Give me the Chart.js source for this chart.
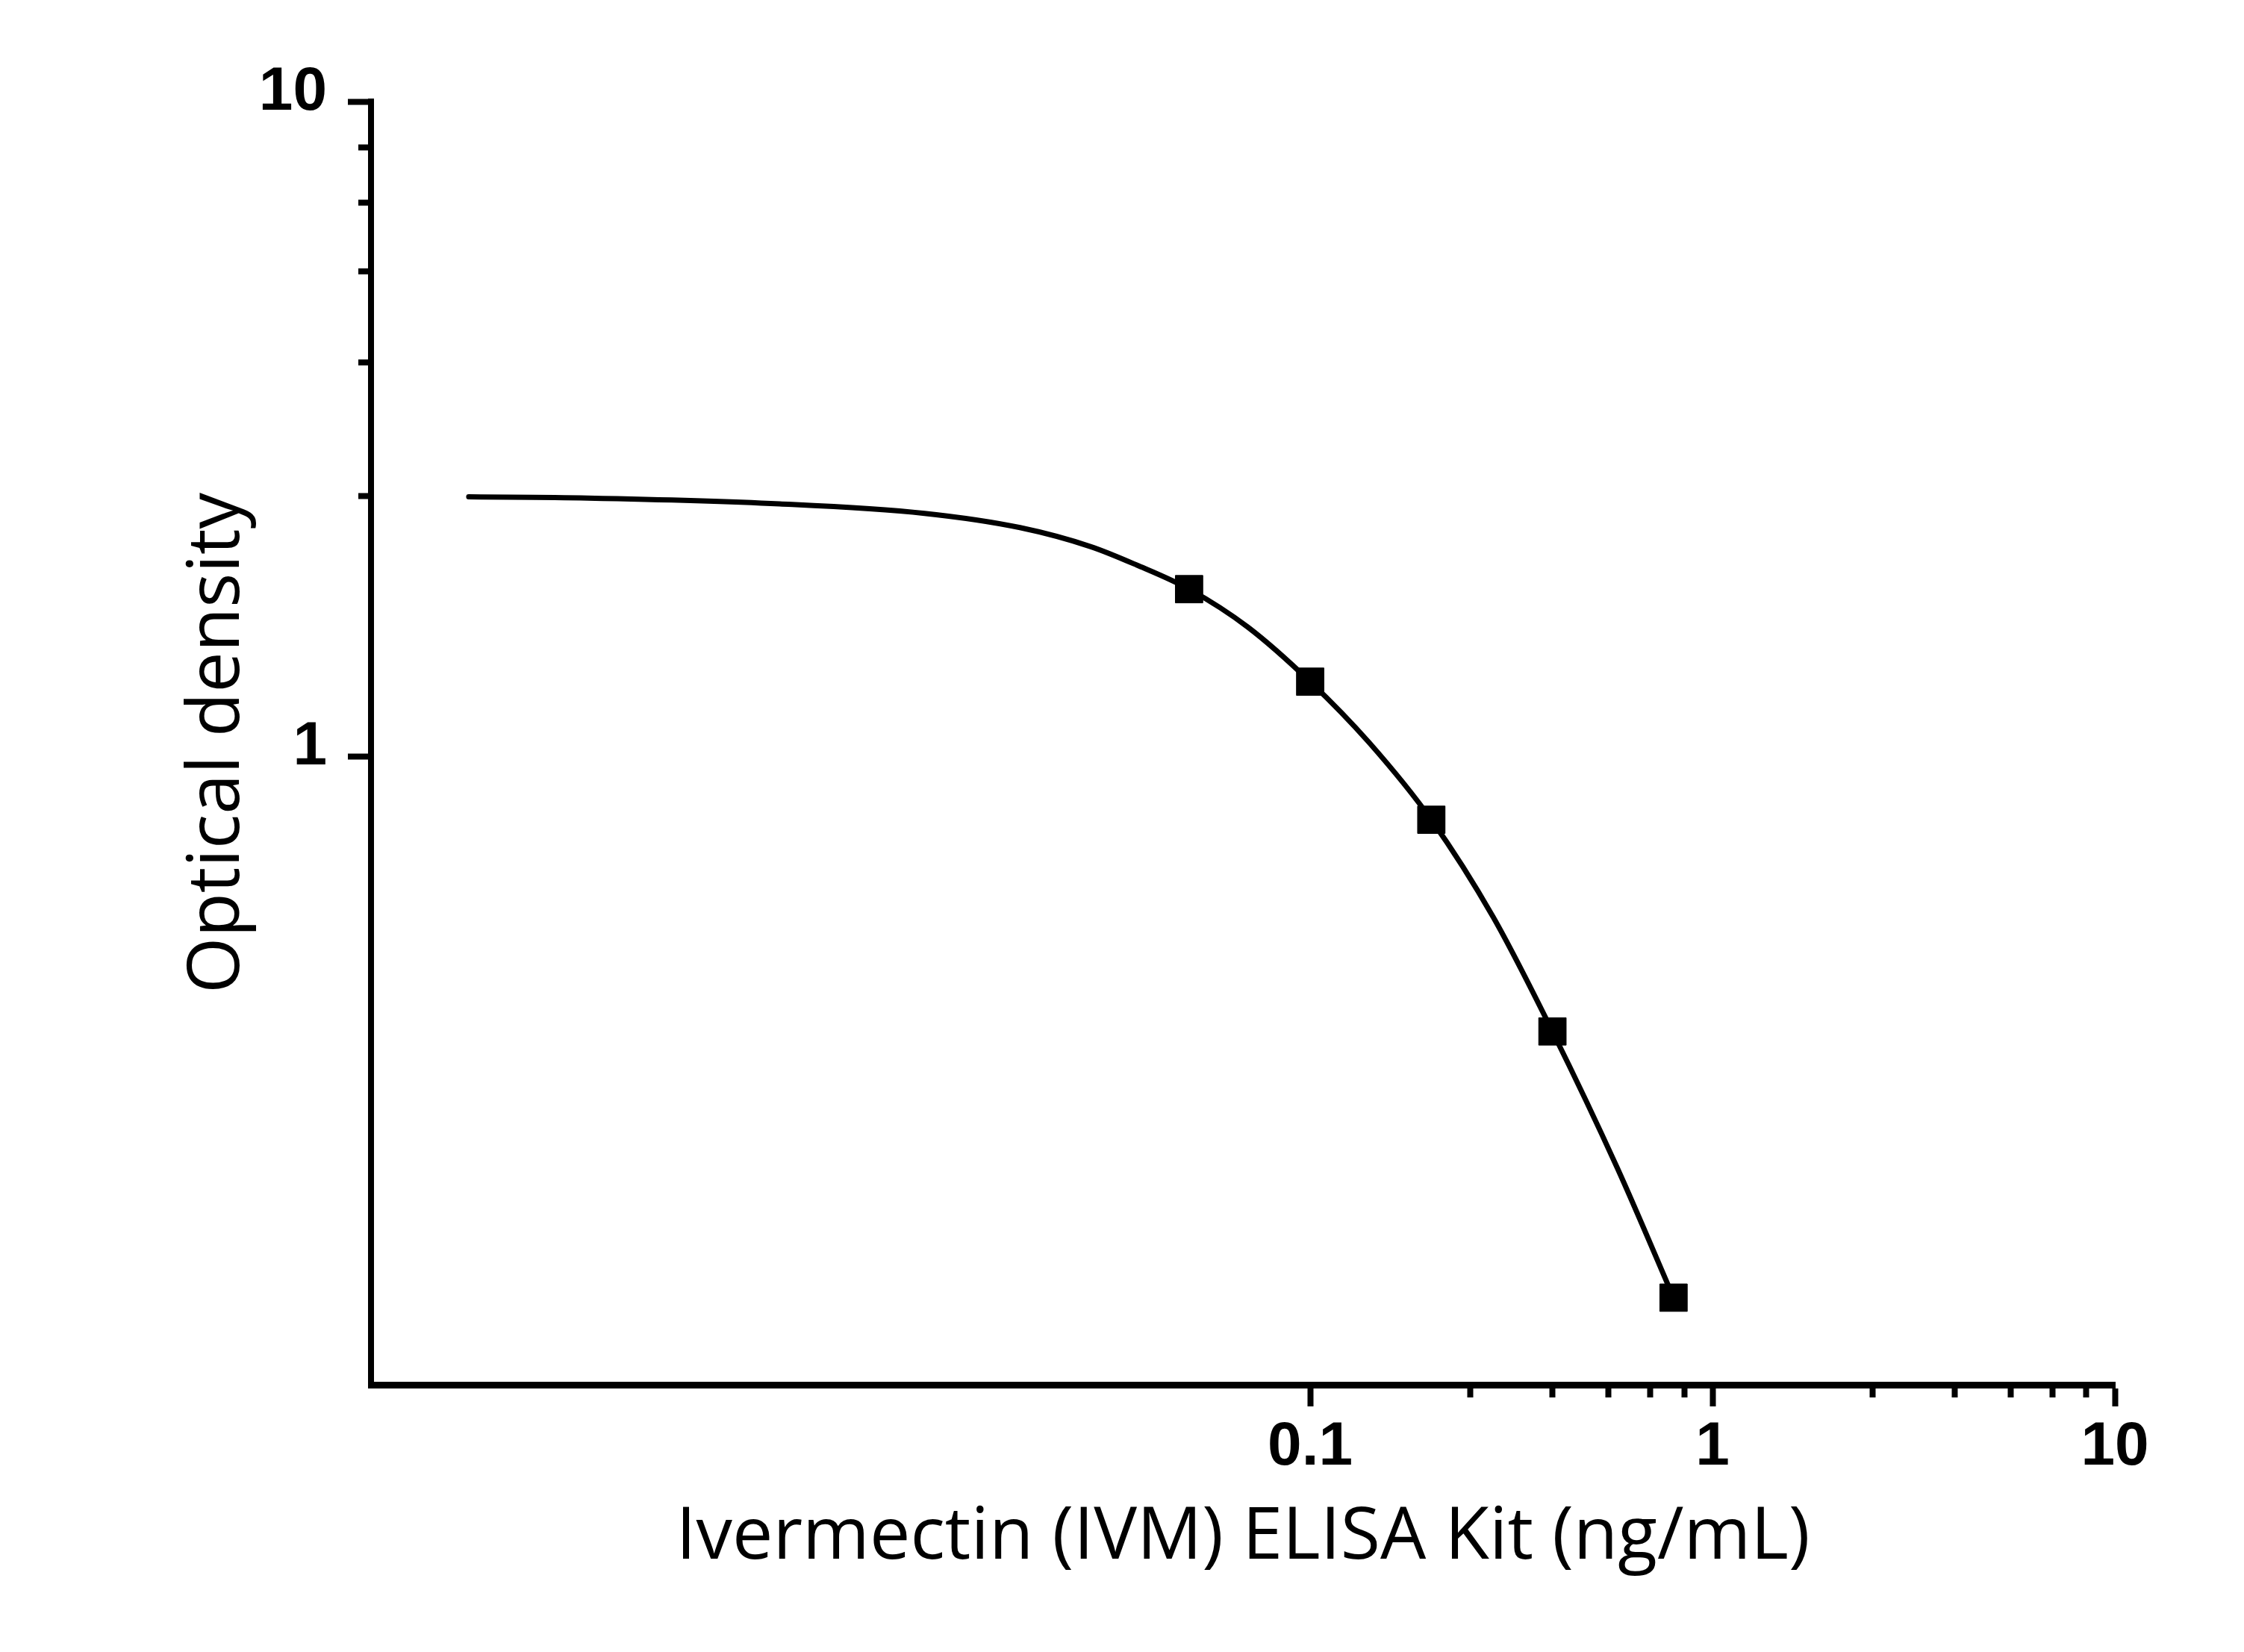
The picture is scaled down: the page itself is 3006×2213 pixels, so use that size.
<!DOCTYPE html>
<html>
<head>
<meta charset="utf-8">
<script src="https://cdn.jsdelivr.net/npm/chart.js@4.4.1/dist/chart.umd.min.js"></script>
<style>
  html, body { margin: 0; padding: 0; background: #fff; }
  canvas { display: block; }
</style>
</head>
<body>
<canvas id="canvas" width="3006" height="2213"></canvas>
<script>
// standards (squares)
const standardConc = [0.05, 0.1, 0.2, 0.4, 0.8];
const standardOD = [1.80, 1.30, 0.80, 0.38, 0.149];

// fitted curve
const fitConc = [0.00081, 0.0016, 0.0048, 0.011, 0.019, 0.0285, 0.037, 0.05, 0.07, 0.1, 0.14, 0.2, 0.285, 0.4, 0.58, 0.8];
const fitOD = [2.49, 2.48, 2.43, 2.35, 2.235, 2.09, 1.96, 1.80, 1.575, 1.30, 1.05, 0.80, 0.568, 0.38, 0.235, 0.149];

// axes
const xRange = [0.000463, 10];
const yRange = [0.1097, 10];
const xMajorTicks = [0.1, 1, 10];
const xMinorTicks = [0.25, 0.4, 0.55, 0.7, 0.85, 2.5, 4, 5.5, 7, 8.5];
const yMajorTicks = [1, 10];
const yMinorTicks = [2.5, 4, 5.5, 7, 8.5];

const tickFont = { family: "'Liberation Sans', Arial, sans-serif", size: 82, weight: 'bold' };
const titleFont = { family: "'Open Sans', sans-serif", size: 97 };

function setTicks(values) {
  return (scale) => { scale.ticks = values.map((v) => ({ value: v })); };
}

const chart = new Chart(document.getElementById("canvas").getContext("2d"), {
  type: "scatter",
  data: {
    datasets: [
      {
        label: "Standards",
        data: standardConc.map((x, i) => ({ x: x, y: standardOD[i] })),
        pointStyle: "rect",
        pointRadius: 26,
        backgroundColor: "#000",
        borderColor: "#000",
        borderWidth: 1,
        showLine: false,
        order: 0
      },
      {
        label: "Fit",
        data: fitConc.map((x, i) => ({ x: x, y: fitOD[i] })),
        showLine: true,
        pointRadius: 0,
        borderColor: "#000",
        borderWidth: 7,
        borderCapStyle: "round",
        cubicInterpolationMode: "monotone",
        fill: false,
        order: 1
      }
    ]
  },
  options: {
    responsive: false,
    animation: false,
    devicePixelRatio: 1,
    layout: { padding: { top: 136, right: 173, left: 0, bottom: 0 } },
    plugins: {
      legend: { display: false },
      tooltip: { enabled: false }
    },
    scales: {
      x: {
        type: "logarithmic",
        position: "bottom",
        min: xRange[0],
        max: xRange[1],
        afterBuildTicks: setTicks(xMajorTicks),
        afterFit: (s) => { s.height = 358; },
        grid: { drawOnChartArea: false, tickLength: 29, tickWidth: 8, tickColor: "#000" },
        border: { color: "#000", width: 9 },
        ticks: {
          color: "#000", font: tickFont, padding: 6,
          maxRotation: 0, autoSkip: false,
          callback: (v) => String(v)
        },
        title: {
          display: true,
          text: "Ivermectin (IVM) ELISA Kit (ng/mL)",
          color: "#000",
          font: titleFont,
          padding: { top: 0, bottom: 94 }
        }
      },
      xMinor: {
        type: "logarithmic",
        axis: "x",
        position: { y: yRange[0] },
        min: xRange[0],
        max: xRange[1],
        afterBuildTicks: setTicks(xMinorTicks),
        grid: { drawOnChartArea: false, tickLength: 12, tickWidth: 8, tickColor: "#000" },
        border: { color: "#000", width: 9 },
        ticks: { display: false }
      },
      y: {
        type: "logarithmic",
        position: "left",
        min: yRange[0],
        max: yRange[1],
        afterBuildTicks: setTicks(yMajorTicks),
        afterFit: (s) => { s.width = 497; },
        grid: { drawOnChartArea: false, tickLength: 31, tickWidth: 8, tickColor: "#000" },
        border: { color: "#000", width: 8 },
        ticks: {
          color: "#000", font: tickFont, padding: 28, labelOffset: -12,
          autoSkip: false,
          callback: (v) => String(v)
        },
        title: {
          display: true,
          text: "Optical density",
          color: "#000",
          font: titleFont,
          padding: { top: 234, bottom: 0 }
        }
      },
      yMinor: {
        type: "logarithmic",
        axis: "y",
        position: { x: xRange[0] },
        min: yRange[0],
        max: yRange[1],
        afterBuildTicks: setTicks(yMinorTicks),
        grid: { drawOnChartArea: false, tickLength: 13, tickWidth: 8, tickColor: "#000" },
        border: { color: "#000", width: 8 },
        ticks: { display: false }
      }
    }
  }
});
</script>
</body>
</html>
